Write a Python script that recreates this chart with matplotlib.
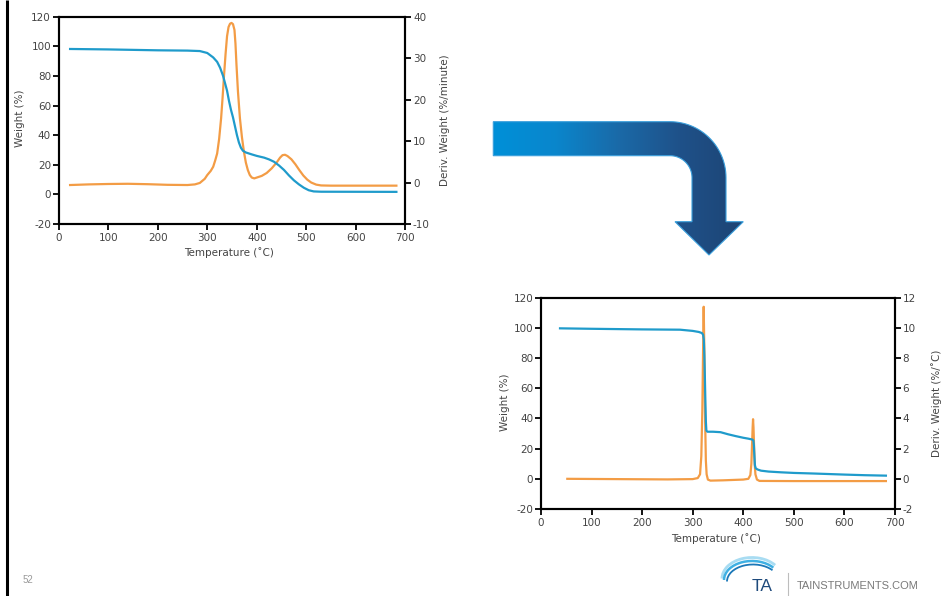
import numpy as np
import matplotlib
matplotlib.use("Agg")
import matplotlib.pyplot as plt
from matplotlib.path import Path
from matplotlib.patches import PathPatch, Arc
from matplotlib.colors import LinearSegmentedColormap

# ---------------- data ----------------
# Standard TGA run (10 °C/min): weight and derivative weight vs temperature
std_temp = [23, 100, 200, 260, 285, 300, 312, 320, 326, 332, 336, 340, 344, 348,
            352, 356, 360, 364, 368, 372, 378, 390, 400, 415, 425, 435, 445, 455,
            465, 475, 485, 495, 505, 515, 530, 682]
std_weight = [98.2, 97.9, 97.3, 97.1, 96.8, 95.5, 92.5, 89.5, 85.5, 80, 75, 70, 63, 57,
              52, 46, 40, 35, 31.5, 29.5, 28.3, 27, 26, 24.8, 23.6, 22, 19.5, 16.5,
              12.8, 9.5, 6.8, 4.5, 2.8, 2.0, 1.8, 1.7]

std_dtemp = [23, 60, 100, 140, 180, 220, 260, 275, 285, 295, 300, 307, 312, 316, 320,
             324, 328, 331, 334, 337, 340, 343, 346, 349, 352, 355, 357, 359, 362, 366,
             370, 374, 378, 382, 386, 390, 395, 400, 410, 420, 430, 440, 447, 452, 457,
             462, 470, 478, 486, 494, 502, 510, 520, 530, 550, 600, 682]
std_deriv = [-0.6, -0.45, -0.35, -0.3, -0.4, -0.55, -0.6, -0.45, -0.1, 0.9, 1.8, 2.8, 3.8,
             5.3, 7.0, 10.5, 15.5, 20.5, 26, 31, 35.3, 37.5, 38.3, 38.5, 38.2, 36.8, 33.5,
             28.5, 22, 15.5, 11, 7.5, 4.8, 3.0, 1.8, 1.2, 1.0, 1.2, 1.6, 2.3, 3.4, 4.8, 6.0,
             6.6, 6.7, 6.4, 5.6, 4.4, 3.0, 1.7, 0.7, 0.0, -0.5, -0.7, -0.75, -0.75, -0.75]

# High-resolution TGA run: weight and derivative weight vs temperature
hr_temp = [37.6, 100, 200, 275, 300, 312, 318, 320.5, 322, 323, 324, 325, 326, 327,
           329, 340, 355, 370, 385, 400, 410, 418, 420, 421, 422, 423, 424.5, 428,
           435, 450, 475, 500, 540, 600, 640, 682]
hr_weight = [99.7, 99.4, 99.0, 98.8, 98.0, 97.3, 96.6, 95.5, 92, 82, 68, 52, 38, 32,
             31.2, 31.2, 30.9, 29.5, 28.3, 27.2, 26.6, 26.0, 25.3, 22, 15, 9, 7, 6.2,
             5.4, 4.8, 4.3, 3.9, 3.5, 2.8, 2.4, 2.1]

hr_dtemp = [52, 150, 250, 300, 310, 314.5, 317, 319, 320.5, 321.7, 323, 324.5, 326,
            327.5, 330, 335, 360, 400, 410, 414, 416, 417.5, 418.5, 419.3, 420.2, 421.2,
            422.5, 424, 427, 432, 500, 600, 682]
hr_deriv = [0.0, -0.02, -0.04, -0.02, 0.05, 0.3, 1.5, 4.5, 8.5, 11.4, 8.5, 4.0, 1.2,
            0.3, -0.05, -0.12, -0.1, -0.05, 0.0, 0.25, 1.0, 2.4, 3.4, 3.95, 3.4, 2.3,
            1.0, 0.3, -0.05, -0.14, -0.15, -0.15, -0.15]

temp_ticks = list(range(0, 701, 100))
weight_ticks = list(range(-20, 121, 20))
std_deriv_ticks = list(range(-10, 41, 10))
hr_deriv_ticks = list(range(-2, 13, 2))

# ---------------- style ----------------
W, H = 953, 596
BLUE = "#1f9bcb"
ORANGE = "#f39c45"
TXT = "#444444"
FONT = "DejaVu Sans"
FS = 7.5
plt.rcParams["font.family"] = [FONT]
plt.rcParams["axes.unicode_minus"] = False

fig = plt.figure(figsize=(W / 100, H / 100), dpi=100, facecolor="white")


def frac(x0, y0, x1, y1):
    """Pixel box (top-left origin) -> figure fraction rect."""
    return [x0 / W, 1 - y1 / H, (x1 - x0) / W, (y1 - y0) / H]


# overlay for decorations, in pixel coordinates
ov = fig.add_axes([0, 0, 1, 1], zorder=0)
ov.set_xlim(0, W)
ov.set_ylim(H, 0)
ov.axis("off")

# left slide rule
ov.plot([7, 7], [0, H], color="black", lw=2.2, solid_capstyle="butt")

# bent arrow
cx, cy, r_in, r_out = 670.0, 177.7, 22.0, 56.0
left_x, y_top, y_bot = 493.3, 121.7, 155.7
head_y, tip = 221.7, (709.0, 255.0)
th_o = np.linspace(-np.pi / 2, 0, 30)
th_i = np.linspace(0, -np.pi / 2, 30)
verts = [(left_x, y_top)]
verts += list(zip(cx + r_out * np.cos(th_o), cy + r_out * np.sin(th_o)))
verts += [(cx + r_out, head_y), (743.3, head_y), tip, (675.0, head_y), (cx + r_in, head_y)]
verts += list(zip(cx + r_in * np.cos(th_i), cy + r_in * np.sin(th_i)))
verts += [(left_x, y_bot), (left_x, y_top)]
codes = [Path.MOVETO] + [Path.LINETO] * (len(verts) - 2) + [Path.CLOSEPOLY]
arrow_path = Path(verts, codes)
clip = PathPatch(arrow_path, facecolor="none", edgecolor="#3a9fdc", lw=0.8, zorder=3)
ov.add_patch(clip)
cmap = LinearSegmentedColormap.from_list(
    "arrow", [(0.0, "#0090d8"), (0.25, "#0a86cc"), (0.5, "#1a6aa8"),
              (0.75, "#1f5189"), (1.0, "#1d4474")])
grad = np.linspace(0, 1, 256).reshape(1, -1)
im = ov.imshow(grad, cmap=cmap, extent=(left_x, 743.3, 256, 121), aspect="auto",
               zorder=2, interpolation="bilinear")
im.set_clip_path(clip)

# footer
ov.text(23, 580, "52", fontsize=7, color="#9a9a9a", ha="left", va="center",
        family="Liberation Sans")
ov.plot([788, 788], [573, 596], color="#bdbdbd", lw=0.8)
ov.text(797, 586, "TAINSTRUMENTS.COM", fontsize=8, color="#7a7a7a", ha="left",
        va="center", family="Liberation Sans")
ov.text(762, 586.5, "TA", fontsize=12.5, color="#1e4a7c", ha="center", va="center",
        family="Liberation Sans")
for (dx, dy, w, h, col, lw) in [(0, -1.5, 60, 42, "#a8dcf2", 2.0),
                                (0, 0, 56, 38, "#3fb0e3", 1.8),
                                (1, 1.5, 52, 34, "#1b78b8", 1.3)]:
    ov.add_patch(Arc((752 + dx, 580 + dy), w, h, angle=0, theta1=180, theta2=330,
                     color=col, lw=lw))


def style_axes(ax, ax2, right_ticks):
    ax.set_xlim(0, 700)
    ax.set_ylim(-20, 120)
    ax.set_xticks(temp_ticks)
    ax.set_yticks(weight_ticks)
    ax2.set_ylim(right_ticks[0], right_ticks[-1])
    ax2.set_yticks(right_ticks)
    for a in (ax, ax2):
        for s in a.spines.values():
            s.set_linewidth(1.5)
            s.set_color("black")
        a.tick_params(direction="out", length=4.5, width=1.3, colors="black",
                      labelcolor=TXT, labelsize=FS, pad=1)
    ax.tick_params(axis="x", pad=2)
    ax.patch.set_alpha(0)


# ---------------- standard run ----------------
ax1 = fig.add_axes(frac(58.7, 16.7, 405.3, 224.0), zorder=2)
ax1b = ax1.twinx()
ax1.plot(std_temp, std_weight, color=BLUE, lw=1.6, zorder=3)
ax1b.plot(std_dtemp, std_deriv, color=ORANGE, lw=1.6)
ax1.set_zorder(3)
style_axes(ax1, ax1b, std_deriv_ticks)
ov.text(20, 118, "Weight (%)", rotation=90, ha="center", va="center", fontsize=FS,
        color=TXT)
ov.text(445, 120, "Deriv. Weight (%/minute)", rotation=90, ha="center", va="center",
        fontsize=FS, color=TXT)
ov.text(229, 253, "Temperature (˚C)", ha="center", va="center", fontsize=FS, color=TXT)

# ---------------- high-resolution run ----------------
ax2 = fig.add_axes(frac(541.0, 297.7, 895.0, 509.0), zorder=2)
ax2b = ax2.twinx()
ax2b.plot(hr_dtemp, hr_deriv, color=ORANGE, lw=1.6)
ax2.plot(hr_temp, hr_weight, color=BLUE, lw=1.6)
ax2.set_zorder(3)
style_axes(ax2, ax2b, hr_deriv_ticks)
ov.text(505, 402, "Weight (%)", rotation=90, ha="center", va="center", fontsize=FS,
        color=TXT)
ov.text(937, 403, "Deriv. Weight (%/˚C)", rotation=90, ha="center", va="center",
        fontsize=FS, color=TXT)
ov.text(716, 539, "Temperature (˚C)", ha="center", va="center", fontsize=FS, color=TXT)

fig.savefig("out.png", dpi=100, facecolor="white")
